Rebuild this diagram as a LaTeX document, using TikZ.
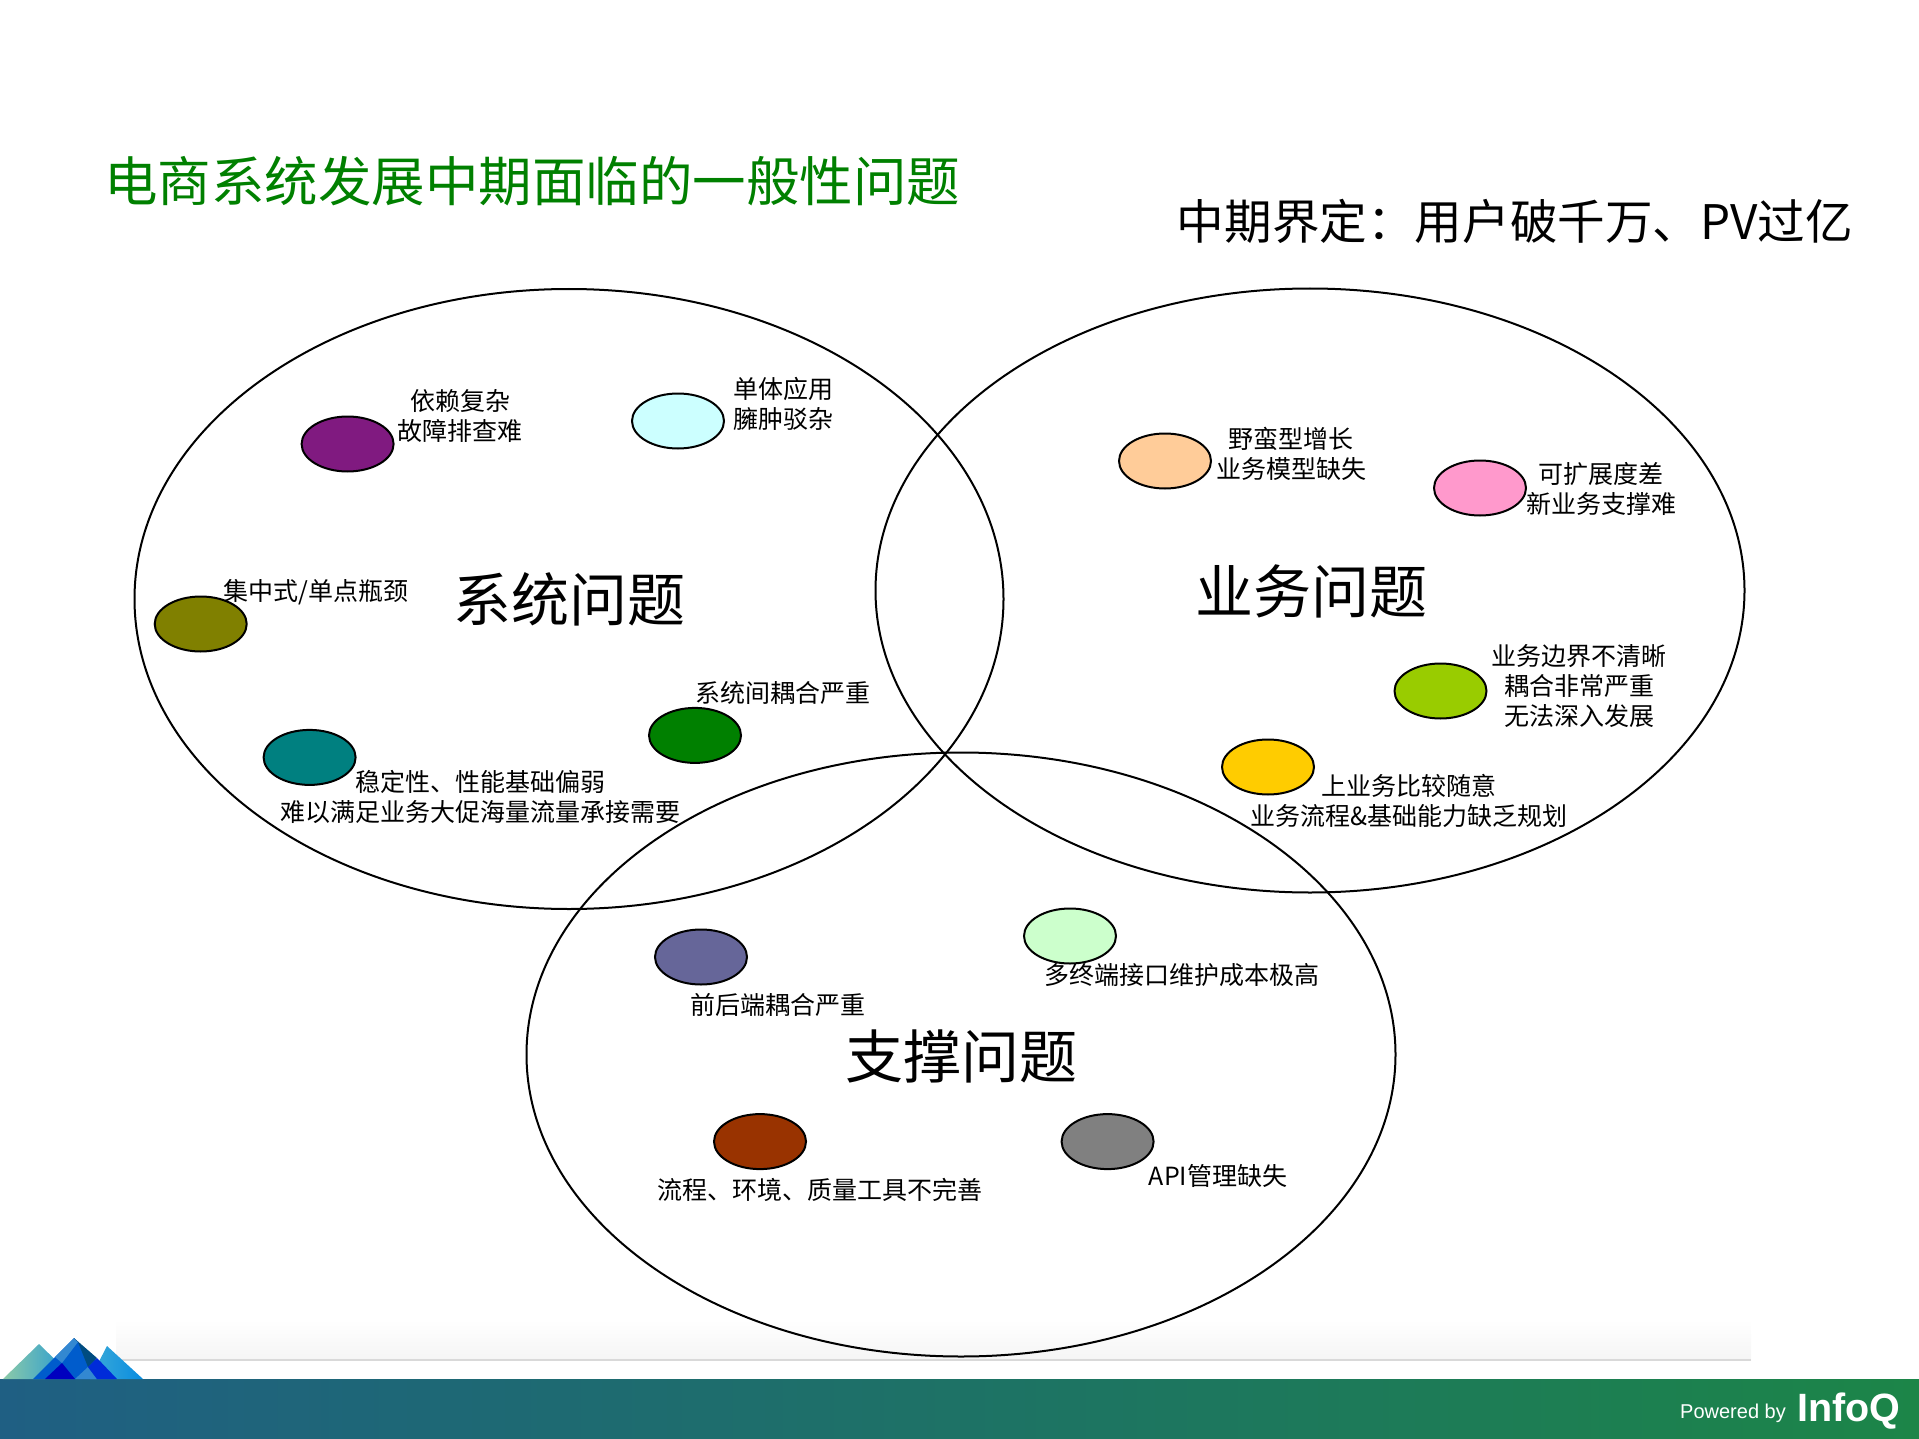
\documentclass[tikz,border=0pt]{standalone}
\usepackage{xcolor}
\usepackage{fontspec}
\setmainfont{Noto Sans CJK SC}
\newfontfamily\lat{Liberation Sans}
\usetikzlibrary{shapes.geometric}
\definecolor{cpurple}{HTML}{801A80}
\definecolor{ccyan}{HTML}{CCFFFF}
\definecolor{colive}{HTML}{808000}
\definecolor{cteal}{HTML}{008080}
\definecolor{cgreen}{HTML}{008000}
\definecolor{corange}{HTML}{FFCC99}
\definecolor{cpink}{HTML}{FF99CC}
\definecolor{clime}{HTML}{99CC00}
\definecolor{cyellow}{HTML}{FFCC00}
\definecolor{cslate}{HTML}{666699}
\definecolor{cmint}{HTML}{CCFFCC}
\definecolor{cbrown}{HTML}{993300}
\definecolor{cgray}{HTML}{808080}
\begin{document}
\begin{tikzpicture}[x=1pt,y=-1pt]
	\tikzstyle{ring}=[ellipse,draw=black,line width=2pt,inner sep=0pt,minimum width=869pt,minimum height=604pt]
	\tikzstyle{spot}=[ellipse,draw=black,line width=2pt,inner sep=0pt,minimum width=92pt,minimum height=55pt]
	\tikzstyle{label}=[align=center,inner sep=0pt,font=\fontsize{25}{30}\selectfont]
	\tikzstyle{head}=[align=center,inner sep=0pt,font=\fontsize{58}{60}\selectfont]
	\useasboundingbox (0,0) rectangle (1919,1439);
	% footer
	\shade[top color=white,bottom color=black!4] (116,1320) rectangle (1751,1360);
	\fill[black!15] (116,1359) rectangle (1751,1361);
	\shade[left color={rgb,255:red,31;green,95;blue,131},right color={rgb,255:red,28;green,133;blue,72}] (0,1379) rectangle (1919,1439);
	\shade[left color={rgb,255:red,140;green,202;blue,168},right color={rgb,255:red,30;green,150;blue,215}] (3,1379) -- (39,1344) -- (75,1379) -- cycle;
	\shade[left color={rgb,255:red,60;green,170;blue,215},right color={rgb,255:red,8;green,140;blue,225}] (90,1379) -- (107,1346) -- (143,1379) -- cycle;
	\fill[blue!55!cyan!80!black] (33,1379) -- (74,1338) -- (115,1379) -- cycle;
	\fill[cyan!60!blue!85!white] (55,1357) -- (74,1338) -- (78,1342) -- (62,1363) -- cycle;
	\fill[blue!40!cyan!50!black] (78,1342) -- (74,1338) -- (97,1358) -- (88,1367) -- cycle;
	\fill[blue!75!black] (45,1379) -- (62,1363) -- (75,1379) -- cycle;
	\fill[cyan!60!blue!85!white] (75,1379) -- (88,1367) -- (97,1379) -- cycle;
	\fill[blue!80!cyan!85!black] (88,1367) -- (97,1358) -- (117,1379) -- (97,1379) -- cycle;
	\node[text=white,inner sep=0pt,font=\lat\fontsize{20}{24}\selectfont] (powered) at (1733,1413) {Powered by};
	\node[text=white,inner sep=0pt,font=\lat\bfseries\fontsize{39.5}{40}\selectfont] (infoq) at (1849,1411) {InfoQ};
	% rings
	\node[ring,minimum height=620pt] (r1) at (569,599) {};
	\node[ring] (r2) at (1310,590.5) {};
	\node[ring] (r3) at (961,1054.5) {};
	% spots
	\node[spot,fill=cpurple] (s1) at (347.6,444) {};
	\node[spot,fill=ccyan] (s2) at (678,421) {};
	\node[spot,fill=colive] (s3) at (200.7,624) {};
	\node[spot,fill=cteal] (s4) at (309.6,757.4) {};
	\node[spot,fill=cgreen] (s5) at (695,735.4) {};
	\node[spot,fill=corange] (s6) at (1165,461) {};
	\node[spot,fill=cpink] (s7) at (1480,488) {};
	\node[spot,fill=clime] (s8) at (1440.5,691) {};
	\node[spot,fill=cyellow] (s9) at (1268,767) {};
	\node[spot,fill=cslate] (s10) at (701,957) {};
	\node[spot,fill=cmint] (s11) at (1070,936) {};
	\node[spot,fill=cbrown] (s12) at (760,1141.6) {};
	\node[spot,fill=cgray] (s13) at (1107.6,1141.6) {};
	% labels
	\node[label] (t1) at (460,416) {依赖复杂\\故障排查难};
	\node[label] (t2) at (783,404) {单体应用\\臃肿驳杂};
	\node[label] (t3) at (316,592) {集中式/单点瓶颈};
	\node[label] (t4) at (480,797) {稳定性、性能基础偏弱\\难以满足业务大促海量流量承接需要};
	\node[label] (t5) at (783,692.6) {系统间耦合严重};
	\node[label] (t6) at (1291,454) {野蛮型增长\\业务模型缺失};
	\node[label] (t7) at (1601,489) {可扩展度差\\新业务支撑难};
	\node[label] (t8) at (1579,686.5) {业务边界不清晰\\耦合非常严重\\无法深入发展};
	\node[label] (t9) at (1409,801) {上业务比较随意\\业务流程\&基础能力缺乏规划};
	\node[label] (t10) at (778,1004.6) {前后端耦合严重};
	\node[label] (t11) at (1182,975) {多终端接口维护成本极高};
	\node[label] (t12) at (820,1189.5) {流程、环境、质量工具不完善};
	\node[label] (t13) at (1218,1176) {API管理缺失};
	% headings
	\node[head] (h1) at (569,599.6) {系统问题};
	\node[head] (h2) at (1311,591) {业务问题};
	\node[head] (h3) at (961,1056) {支撑问题};
	\node[inner sep=0pt,text=cgreen,font=\fontsize{53.5}{60}\selectfont] (title) at (532,181) {电商系统发展中期面临的一般性问题};
	\node[inner sep=0pt,font=\fontsize{47.6}{50}\selectfont] (scope) at (1515,221.5) {中期界定：用户破千万、PV过亿};
\end{tikzpicture}
\end{document}
